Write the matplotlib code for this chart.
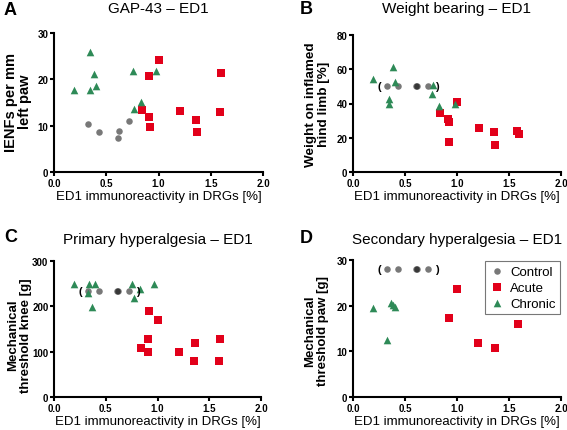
import matplotlib
matplotlib.use("Agg")
from matplotlib import pyplot as plt

plt.rcParams['font.family'] = ['Liberation Sans', 'DejaVu Sans']

# ED1 immunoreactivity (x) per group
ctrl_x = [0.33, 0.43, 0.61, 0.62, 0.72]
acute_x = [1.00, 0.91, 0.84, 0.91, 0.92, 1.21, 1.36, 1.37, 1.60, 1.59]
chron_x = [0.34, 0.19, 0.34, 0.38, 0.40, 0.76, 0.77, 0.83, 0.98]

# A: GAP-43
gap_ctrl = [10.4, 8.6, 7.3, 8.8, 10.9]
gap_acute = [24.2, 20.7, 13.3, 11.9, 9.8, 13.2, 11.3, 8.7, 21.4, 12.9]
gap_chron = [26.0, 17.6, 17.6, 21.1, 18.5, 21.9, 13.6, 15.1, 21.7]

# B: weight bearing
wb_ctrl = [50, 50, 50, 50, 50]
wb_acute_x = [1.00, 0.84, 0.91, 0.92, 0.92, 1.21, 1.36, 1.37, 1.58, 1.60]
wb_acute = [40.6, 34.4, 30.9, 29.3, 17.7, 25.8, 23.3, 15.7, 23.9, 22.1]
wb_chron_x = [0.19, 0.38, 0.40, 0.35, 0.35, 0.77, 0.76, 0.83, 0.98]
wb_chron = [54.2, 61.6, 52.8, 42.7, 39.8, 50.7, 45.4, 38.8, 40.0]

# C: primary hyperalgesia
ph_ctrl = [233, 233, 233, 233, 233]
ph_acute_x = [0.92, 1.00, 0.84, 0.91, 0.91, 1.21, 1.36, 1.35, 1.60, 1.59]
ph_acute = [189, 170, 109, 129, 100, 100, 119, 80, 129, 80]
ph_chron_x = [0.19, 0.34, 0.33, 0.40, 0.37, 0.75, 0.83, 0.77, 0.97]
ph_chron = [249, 249, 230, 249, 199, 249, 238, 219, 249]

# D: secondary hyperalgesia
sh_ctrl = [28, 28, 28, 28, 28]
sh_acute_x = [1.00, 0.92, 1.20, 1.37, 1.59]
sh_acute = [23.7, 17.3, 11.8, 10.8, 16.0]
sh_chron_x = [0.19, 0.37, 0.38, 0.40, 0.33]
sh_chron = [19.5, 20.5, 20.1, 19.7, 12.5]

titles = ["GAP-43 – ED1", "Weight bearing – ED1",
          "Primary hyperalgesia – ED1", "Secondary hyperalgesia – ED1"]
ylabels = ["IENFs per mm\nleft paw", "Weight on inflamed\nhind limb [%]",
           "Mechanical\nthreshold knee [g]", "Mechanical\nthreshold paw [g]"]
letters = ["A", "B", "C", "D"]
yticks = [[0, 10, 20, 30], [0, 20, 40, 60, 80], [0, 100, 200, 300], [0, 10, 20, 30]]

RED = "#e2001a"
GREEN = "#2e8a57"

W, H = 567, 431
fig = plt.figure(figsize=(W / 100, H / 100), dpi=100)


def px_rect(x0, x1, ytop, ybot):
    return [x0 / W, 1 - ybot / H, (x1 - x0) / W, (ybot - ytop) / H]


axes = [
    fig.add_axes(px_rect(54, 263, 34, 173)),
    fig.add_axes(px_rect(353, 561, 36, 173)),
    fig.add_axes(px_rect(54, 261, 262, 398)),
    fig.add_axes(px_rect(353, 561, 261, 398)),
]

panels = [
    (gap_ctrl, acute_x, gap_acute, chron_x, gap_chron),
    (wb_ctrl, wb_acute_x, wb_acute, wb_chron_x, wb_chron),
    (ph_ctrl, ph_acute_x, ph_acute, ph_chron_x, ph_chron),
    (sh_ctrl, sh_acute_x, sh_acute, sh_chron_x, sh_chron),
]
title_pads = [15, 16.5, 13, 12.5]
letter_pos = [(4, 15), (300, 14), (4, 242), (300, 243)]
ylabel_pos = [(-0.105, 0.51), (-0.11, 0.5), (-0.106, 0.46), (-0.115, 0.49)]
ylabel_sizes = [10.5, 9.7, 9.5, 9.5]
ylabel_spacing = [1.0, 1.1, 1.1, 1.1]

for i, ax in enumerate(axes):
    cy, ax_x, ay, ch_x, chy = panels[i]
    ax.scatter(ctrl_x, cy, s=22, marker="o", color="black", alpha=0.53,
               linewidths=0, clip_on=False, zorder=3, label="Control")
    ax.scatter(ax_x, ay, s=26, marker="s", color=RED, linewidths=0,
               clip_on=False, zorder=3, label="Acute")
    ax.scatter(ch_x, chy, s=30, marker="^", color=GREEN, linewidths=0,
               clip_on=False, zorder=3, label="Chronic")
    if i > 0:
        ax.text(0.25, cy[0], "(", ha="center", va="center", fontsize=8, fontweight="bold")
        ax.text(0.81, cy[0], ")", ha="center", va="center", fontsize=8, fontweight="bold")

    ax.set_xlim(0, 2)
    ax.set_ylim(0, yticks[i][-1])
    ax.set_xticks([0, 0.5, 1.0, 1.5, 2.0])
    ax.set_xticklabels(["0.0", "0.5", "1.0", "1.5", "2.0"])
    ax.set_yticks(yticks[i])
    for side in ["top", "right"]:
        ax.spines[side].set_visible(False)
    for side in ["left", "bottom"]:
        ax.spines[side].set_linewidth(1.5)
    ax.tick_params(width=1.5, length=3, labelsize=7, pad=1)
    for lab in ax.get_xticklabels() + ax.get_yticklabels():
        lab.set_fontweight("bold")

    ax.set_xlabel("ED1 immunoreactivity in DRGs [%]", fontsize=9.5, labelpad=2)
    ax.set_ylabel(ylabels[i], fontsize=ylabel_sizes[i], fontweight="bold",
                  linespacing=ylabel_spacing[i])
    ax.yaxis.set_label_coords(*ylabel_pos[i])
    ax.set_title(titles[i], fontsize=11, pad=title_pads[i])
    lx, ly = letter_pos[i]
    fig.text(lx / W, 1 - ly / H, letters[i], fontsize=13, fontweight="bold",
             ha="left", va="baseline")

leg = axes[3].legend(loc="upper right", bbox_to_anchor=(1.0, 1.0), fontsize=9.5,
                     frameon=True, fancybox=False, borderaxespad=0.1,
                     handletextpad=0.4, labelspacing=0.3, borderpad=0.3,
                     handlelength=1.2)
leg.get_frame().set_edgecolor("#555555")
leg.get_frame().set_linewidth(0.8)

fig.savefig("out.png", dpi=100)
